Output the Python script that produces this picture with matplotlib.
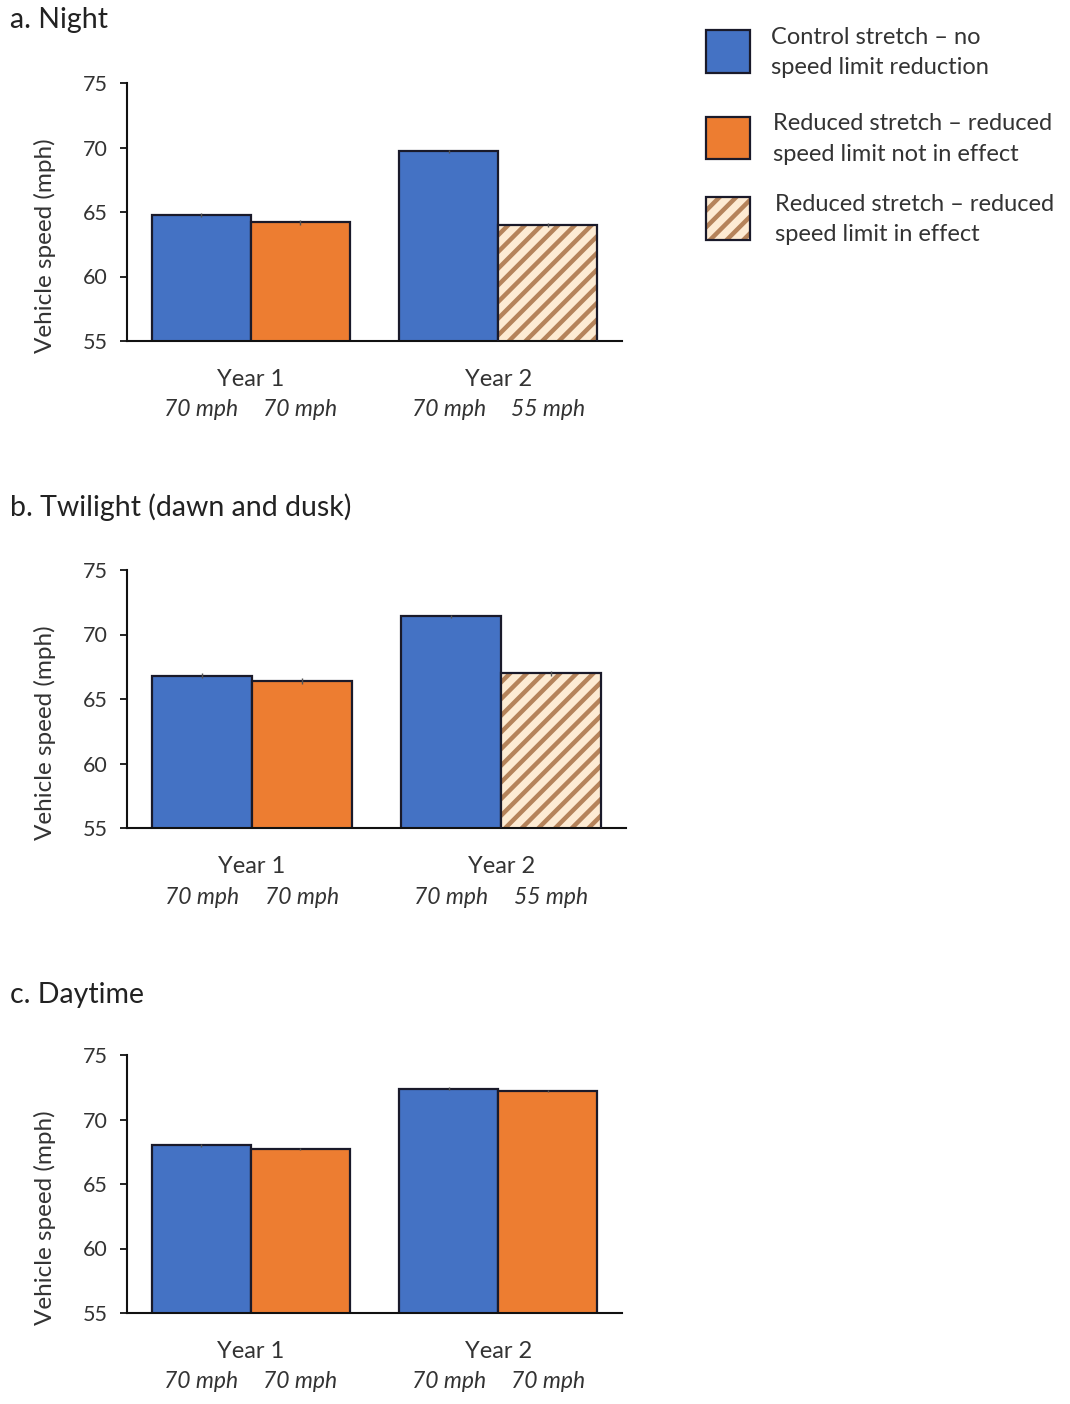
import matplotlib
matplotlib.use("Agg")
import matplotlib.pyplot as plt
from matplotlib.patches import Rectangle
import numpy as np

plt.rcParams['font.family'] = ['Lato', 'DejaVu Sans']
plt.rcParams['hatch.linewidth'] = 3.2

# ---- data ----
panel_titles = ["a. Night", "b. Twilight (dawn and dusk)", "c. Daytime"]
years = ["Year 1", "Year 2"]
control_speed = [[64.8, 69.7], [66.8, 71.4], [68.0, 72.4]]
reduced_speed = [[64.2, 64.0], [66.4, 67.0], [67.7, 72.2]]
control_err = [[0.15, 0.1], [0.2, 0.15], [0.1, 0.1]]
reduced_err = [[0.2, 0.15], [0.25, 0.2], [0.1, 0.1]]
# whether the reduced limit was in effect in Year 2
reduced_in_effect = [True, True, False]
control_limits = [["70 mph", "70 mph"], ["70 mph", "70 mph"], ["70 mph", "70 mph"]]
reduced_limits = [["70 mph", "55 mph"], ["70 mph", "55 mph"], ["70 mph", "70 mph"]]
legend_labels = ["Control stretch \u2013 no\nspeed limit reduction",
                 "Reduced stretch \u2013 reduced\nspeed limit not in effect",
                 "Reduced stretch \u2013 reduced\nspeed limit in effect"]
y_ticks = [55, 60, 65, 70, 75]

BLUE = '#4472C4'
ORANGE = '#ED7D31'
HATCH_BG = '#FDEBD3'
HATCH_FG = '#B5835A'
EDGE = '#1a1a2a'
TXT = '#333333'

W, H = 1070, 1404
fig = plt.figure(figsize=(W / 100, H / 100), dpi=100)

# axes pixel boxes: (left, right, top, bottom)
boxes = [(127, 622, 83, 341), (127, 626, 570, 828), (127, 622, 1055, 1313)]
title_y = [20, 507, 995]

bw = 0.4
x = np.arange(len(years))
for i, (l, r, t, b) in enumerate(boxes):
    ax = fig.add_axes([l / W, 1 - b / H, (r - l) / W, (b - t) / H])
    xc = x - bw / 2
    xr = x + bw / 2
    ax.bar(xc, control_speed[i], bw, color=BLUE, edgecolor=EDGE, linewidth=1.6, zorder=2)
    for j in range(len(years)):
        hatched = reduced_in_effect[i] and j == 1
        if hatched:
            ax.bar(xr[j], reduced_speed[i][j], bw, color=HATCH_BG, edgecolor=HATCH_FG,
                   hatch='//', linewidth=0, zorder=2)
            ax.bar(xr[j], reduced_speed[i][j], bw, fill=False, edgecolor=EDGE,
                   linewidth=1.6, zorder=3)
        else:
            ax.bar(xr[j], reduced_speed[i][j], bw, color=ORANGE, edgecolor=EDGE,
                   linewidth=1.6, zorder=2)
    ax.errorbar(xc, control_speed[i], yerr=control_err[i], fmt='none', ecolor='#555555',
                elinewidth=1, capsize=0, zorder=4)
    ax.errorbar(xr, reduced_speed[i], yerr=reduced_err[i], fmt='none', ecolor='#555555',
                elinewidth=1, capsize=0, zorder=4)
    ax.set_xlim(-0.5, 1.5)
    ax.set_ylim(55, 75)
    ax.set_yticks(y_ticks)
    ax.tick_params(axis='y', direction='out', length=5, width=1.2, labelsize=15.5, pad=9,
                   labelcolor=TXT)
    ax.set_xticks(x)
    ax.set_xticklabels(years)
    ax.tick_params(axis='x', length=0, labelsize=17, pad=20, labelcolor=TXT)
    for s in ['top', 'right']:
        ax.spines[s].set_visible(False)
    for s in ['left', 'bottom']:
        ax.spines[s].set_linewidth(1.5)
        ax.spines[s].set_color('#111111')
    ax.set_ylabel("Vehicle speed (mph)", fontsize=17.5, color=TXT)
    ax.yaxis.set_label_coords((56 - l) / (r - l), 0.5 - 34 / (b - t))
    for j in range(len(years)):
        ax.annotate(control_limits[i][j], xy=(xc[j], 0), xycoords=('data', 'axes fraction'),
                    xytext=(0, -69), textcoords='offset pixels', ha='center', va='center',
                    fontsize=16.5, style='italic', color=TXT)
        ax.annotate(reduced_limits[i][j], xy=(xr[j], 0), xycoords=('data', 'axes fraction'),
                    xytext=(0, -69), textcoords='offset pixels', ha='center', va='center',
                    fontsize=16.5, style='italic', color=TXT)
    fig.text(10 / W, 1 - title_y[i] / H, panel_titles[i], fontsize=20.5, va='center',
             ha='left', color='#222222')

# ---- legend (manual placement) ----
leg_faces = [BLUE, ORANGE, HATCH_BG]
leg_hatch = [None, None, '//']
leg_boxes = [(706, 30, 750, 73), (706, 117, 750, 159), (706, 197, 750, 240)]
leg_text_x = [771, 773, 775]
for k, (x0, y0, x1, y1) in enumerate(leg_boxes):
    if leg_hatch[k]:
        fig.add_artist(Rectangle((x0 / W, 1 - y1 / H), (x1 - x0) / W, (y1 - y0) / H,
                                 transform=fig.transFigure, facecolor=HATCH_BG,
                                 edgecolor=HATCH_FG, hatch=leg_hatch[k], linewidth=0))
        fig.add_artist(Rectangle((x0 / W, 1 - y1 / H), (x1 - x0) / W, (y1 - y0) / H,
                                 transform=fig.transFigure, fill=False,
                                 edgecolor=EDGE, linewidth=1.6))
    else:
        fig.add_artist(Rectangle((x0 / W, 1 - y1 / H), (x1 - x0) / W, (y1 - y0) / H,
                                 transform=fig.transFigure, facecolor=leg_faces[k],
                                 edgecolor=EDGE, linewidth=1.6))
    fig.text(leg_text_x[k] / W, 1 - ((y0 + y1) / 2 + 1) / H, legend_labels[k],
             fontsize=17, va='center', ha='left', color=TXT, linespacing=1.55)

fig.savefig("out.png", dpi=100, facecolor='white')
